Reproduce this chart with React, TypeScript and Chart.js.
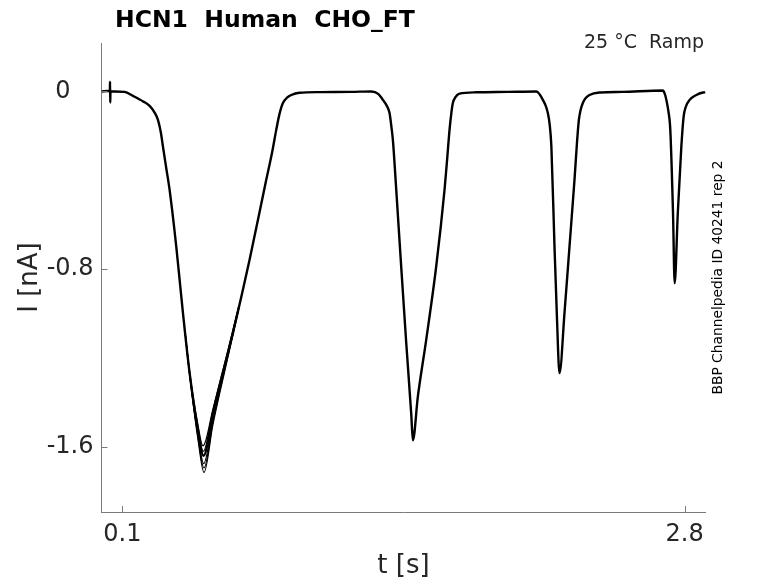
import React, { useEffect, useRef } from 'react';
import { Chart, registerables } from 'chart.js';

Chart.register(...registerables);

// Main sweep: time [s] and current [nA]
const timeS = [
  0.000, 0.030, 0.040, 0.041, 0.042, 0.043, 0.063, 0.111, 0.151, 0.200, 0.231, 0.255,
  0.271, 0.285, 0.295, 0.310, 0.327, 0.359, 0.391, 0.423, 0.463, 0.490, 0.535, 0.631,
  0.711, 0.791, 0.820, 0.839, 0.855, 0.871, 0.891, 0.911, 0.951, 1.050, 1.200, 1.295,
  1.330, 1.351, 1.370, 1.383, 1.392, 1.399, 1.415, 1.439, 1.463, 1.487, 1.495, 1.519,
  1.559, 1.607, 1.647, 1.660, 1.671, 1.680, 1.687, 1.700, 1.719, 1.800, 1.950, 2.088,
  2.105, 2.119, 2.133, 2.143, 2.152, 2.160, 2.175, 2.186, 2.199, 2.223, 2.247, 2.271,
  2.283, 2.292, 2.300, 2.311, 2.325, 2.343, 2.391, 2.500, 2.695, 2.705, 2.712, 2.722,
  2.731, 2.744, 2.752, 2.767, 2.784, 2.795, 2.805, 2.824, 2.856, 2.888, 2.900,
];
const currentNA = [
  0.000, 0.002, 0.000, 0.044, -0.050, 0.000, 0.000, -0.002, -0.020, -0.045, -0.065, -0.095,
  -0.128, -0.185, -0.248, -0.340, -0.443, -0.698, -0.997, -1.267, -1.523, -1.640, -1.447, -1.087,
  -0.758, -0.398, -0.270, -0.173, -0.100, -0.052, -0.028, -0.016, -0.006, -0.003, -0.002, 0.000,
  -0.012, -0.038, -0.065, -0.097, -0.160, -0.218, -0.440, -0.790, -1.130, -1.450, -1.570, -1.373,
  -1.118, -0.788, -0.443, -0.300, -0.173, -0.095, -0.052, -0.025, -0.010, -0.004, -0.002, 0.000,
  -0.015, -0.038, -0.065, -0.097, -0.150, -0.248, -0.698, -0.997, -1.268, -0.997, -0.698, -0.398,
  -0.230, -0.128, -0.085, -0.052, -0.030, -0.016, -0.005, -0.002, 0.004, -0.012, -0.038, -0.090,
  -0.173, -0.547, -0.863, -0.547, -0.248, -0.113, -0.070, -0.038, -0.016, -0.005, -0.004,
];

// Other sweeps, which only separate around the first trough
const sweepDeepT = [0.400, 0.423, 0.463, 0.492, 0.535, 0.600, 0.660];
const sweepDeepI = [-1.075, -1.275, -1.565, -1.715, -1.500, -1.225, -0.975];
const sweepLowT = [0.400, 0.423, 0.463, 0.492, 0.535, 0.600, 0.660];
const sweepLowI = [-1.075, -1.273, -1.555, -1.695, -1.488, -1.218, -0.972];
const sweepMidT = [0.400, 0.423, 0.463, 0.491, 0.535, 0.600, 0.660];
const sweepMidI = [-1.074, -1.270, -1.545, -1.675, -1.475, -1.212, -0.970];
const sweepUpT = [0.400, 0.423, 0.463, 0.489, 0.535, 0.600, 0.660];
const sweepUpI = [-1.072, -1.265, -1.520, -1.620, -1.440, -1.198, -0.965];
const sweepHighT = [0.400, 0.423, 0.463, 0.487, 0.535, 0.600, 0.660];
const sweepHighI = [-1.070, -1.260, -1.500, -1.595, -1.430, -1.190, -0.962];

const xTickValues = [0.1, 2.8];
const xTickLabels = ['0.1', '2.8'];
const yTickValues = [-1.6, -0.8, 0];
const yTickLabels = ['-1.6', '-0.8', '0   '];

const titleText = 'HCN1  Human  CHO_FT';
const conditionText = '25 °C  Ramp';
const sourceText = 'BBP Channelpedia ID 40241 rep 2';
const xLabel = 't [s]';
const yLabel = 'I [nA]';

const FONT = '"DejaVu Sans", sans-serif';
const AXIS_COLOR = '#7a7a7a';
const TEXT_COLOR = '#262626';

const toPoints = (ts: number[], is: number[]) => ts.map((t, i) => ({ x: t, y: is[i] }));

const annotate = {
  id: 'annotate',
  afterDraw(chart: any) {
    const { ctx, chartArea, scales } = chart;
    ctx.save();
    ctx.strokeStyle = AXIS_COLOR;
    ctx.lineWidth = 1;
    yTickValues.forEach((v) => {
      const py = Math.round(scales.y.getPixelForValue(v)) + 0.5;
      ctx.beginPath();
      ctx.moveTo(chartArea.left, py);
      ctx.lineTo(chartArea.left + 6, py);
      ctx.stroke();
    });
    xTickValues.forEach((v) => {
      const px = Math.round(scales.x.getPixelForValue(v)) + 0.5;
      ctx.beginPath();
      ctx.moveTo(px, chartArea.bottom);
      ctx.lineTo(px, chartArea.bottom - 6);
      ctx.stroke();
    });

    ctx.fillStyle = '#000';
    ctx.font = `bold 23.5px ${FONT}`;
    ctx.textAlign = 'left';
    ctx.textBaseline = 'alphabetic';
    ctx.fillText(titleText, 115, 27);

    ctx.fillStyle = TEXT_COLOR;
    ctx.font = `19px ${FONT}`;
    ctx.textAlign = 'right';
    ctx.fillText(conditionText, 704, 48);

    ctx.translate(722, (chartArea.top + chartArea.bottom) / 2);
    ctx.rotate(-Math.PI / 2);
    ctx.fillStyle = '#000';
    ctx.font = `13.8px ${FONT}`;
    ctx.textAlign = 'center';
    ctx.fillText(sourceText, 0, 0);
    ctx.restore();
  },
};

export default function App() {
  const canvasRef = useRef<HTMLCanvasElement | null>(null);

  useEffect(() => {
    if (!canvasRef.current) return;
    const lineStyle = {
      borderColor: '#000',
      pointRadius: 0,
      fill: false,
      cubicInterpolationMode: 'monotone' as const,
      borderJoinStyle: 'round' as const,
    };
    const chart = new Chart(canvasRef.current, {
      type: 'line',
      data: {
        datasets: [
          { ...lineStyle, data: toPoints(sweepDeepT, sweepDeepI), borderWidth: 1.2 },
          { ...lineStyle, data: toPoints(sweepLowT, sweepLowI), borderWidth: 1.2 },
          { ...lineStyle, data: toPoints(sweepMidT, sweepMidI), borderWidth: 1.2 },
          { ...lineStyle, data: toPoints(sweepUpT, sweepUpI), borderWidth: 1.2 },
          { ...lineStyle, data: toPoints(sweepHighT, sweepHighI), borderWidth: 1.2 },
          { ...lineStyle, data: toPoints(timeS, currentNA), borderWidth: 2.4 },
        ],
      },
      options: {
        animation: false,
        responsive: false,
        devicePixelRatio: 1,
        layout: { padding: { left: 0, right: 72.5, top: 43, bottom: 0 } },
        plugins: { legend: { display: false }, tooltip: { enabled: false }, title: { display: false } },
        scales: {
          x: {
            type: 'linear',
            min: 0,
            max: 2.9,
            grid: { display: false, drawTicks: false },
            border: { display: true, color: AXIS_COLOR, width: 1 },
            afterBuildTicks: (scale: any) => {
              scale.ticks = xTickValues.map((v) => ({ value: v }));
            },
            afterFit: (scale: any) => {
              scale.height = 71;
            },
            ticks: {
              color: TEXT_COLOR,
              font: { family: FONT, size: 24 },
              padding: 8,
              maxRotation: 0,
              autoSkip: false,
              callback: (v: any) => {
                const i = xTickValues.indexOf(Number(v));
                return i >= 0 ? xTickLabels[i] : '';
              },
            },
            title: {
              display: true,
              text: xLabel,
              color: TEXT_COLOR,
              font: { family: FONT, size: 26 },
              padding: { top: 0, bottom: 1 },
            },
          },
          y: {
            type: 'linear',
            min: -1.893,
            max: 0.218,
            grid: { display: false, drawTicks: false },
            border: { display: true, color: AXIS_COLOR, width: 1 },
            afterBuildTicks: (scale: any) => {
              scale.ticks = yTickValues.map((v) => ({ value: v }));
            },
            afterFit: (scale: any) => {
              scale.width = 101.5;
            },
            ticks: {
              color: TEXT_COLOR,
              font: { family: FONT, size: 24 },
              padding: 8,
              autoSkip: false,
              callback: (v: any) => {
                const i = yTickValues.findIndex((t) => Math.abs(t - Number(v)) < 1e-9);
                return i >= 0 ? yTickLabels[i] : '';
              },
            },
            title: {
              display: true,
              text: yLabel,
              color: TEXT_COLOR,
              font: { family: FONT, size: 26 },
              padding: { top: 15, bottom: 0 },
            },
          },
        },
      },
      plugins: [annotate],
    });
    return () => chart.destroy();
  }, []);

  return (
    <div style={{ position: 'absolute', left: 0, top: 0, width: 778, height: 583, background: '#fff' }}>
      <canvas ref={canvasRef} width={778} height={583} style={{ width: 778, height: 583, display: 'block' }} />
    </div>
  );
}
